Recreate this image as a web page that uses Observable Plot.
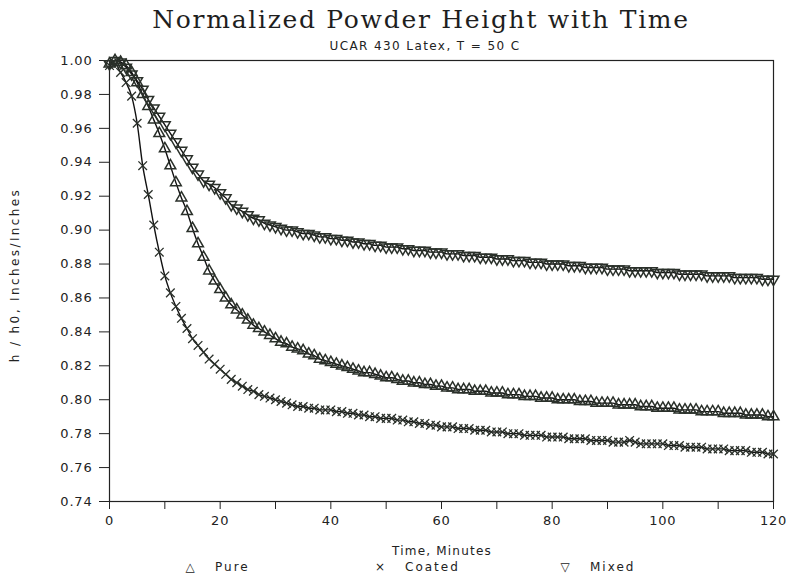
<!DOCTYPE html>
<html><head><meta charset="utf-8">
<script src="https://cdn.jsdelivr.net/npm/d3@7"></script>
<script src="https://cdn.jsdelivr.net/npm/@observablehq/plot@0.6"></script>
<style>
body{margin:0;background:#fff;}
#wrap{position:relative;width:786px;height:579px;overflow:hidden;font-family:"DejaVu Sans",sans-serif;color:#222;}
.t{position:absolute;white-space:nowrap;transform:translate(-50%,-50%);}
#chart{position:absolute;left:0;top:0;}
</style></head><body>
<div id="wrap">
<div id="chart"></div>
<div class="t" id="title" style="left:421px;top:19px;font-family:'DejaVu Serif',serif;font-size:25px;letter-spacing:1.7px;color:#1e1e1e;">Normalized Powder Height with Time</div>
<div class="t" id="sub" style="left:425px;top:46px;font-size:12px;letter-spacing:1.4px;">UCAR 430 Latex, T = 50 C</div>
<div class="t" id="ylab" style="left:15px;top:275px;font-size:12px;letter-spacing:2.4px;transform:translate(-50%,-50%) rotate(-90deg);">h / h0, Inches/Inches</div>
<div class="t" id="xlab" style="left:442px;top:551px;font-size:12px;letter-spacing:1.2px;">Time, Minutes</div>
<div id="legend"></div>
</div>
<script>
// Sample times (minutes)
const times = d3.range(0, 121);
// Series (h/h0)
const pure = [
0.998,1.000,0.999,0.997,0.993,0.987,0.980,0.973,0.965,0.957,
0.948,0.938,0.928,0.919,0.911,0.901,0.892,0.884,0.876,0.870,
0.865,0.860,0.856,0.853,0.850,0.847,0.844,0.842,0.840,0.838,
0.836,0.834,0.833,0.831,0.830,0.829,0.827,0.826,0.824,0.823,
0.822,0.821,0.820,0.819,0.818,0.817,0.816,0.816,0.815,0.814,
0.813,0.813,0.812,0.811,0.811,0.810,0.810,0.809,0.809,0.808,
0.808,0.807,0.807,0.806,0.806,0.806,0.805,0.805,0.805,0.804,
0.804,0.804,0.803,0.803,0.803,0.802,0.802,0.802,0.801,0.801,
0.801,0.800,0.800,0.800,0.800,0.799,0.799,0.799,0.798,0.798,
0.798,0.798,0.797,0.797,0.797,0.797,0.796,0.796,0.796,0.795,
0.795,0.795,0.795,0.794,0.794,0.794,0.794,0.793,0.793,0.793,
0.793,0.792,0.792,0.792,0.792,0.791,0.791,0.791,0.791,0.790,
0.790];
const coated = [
0.997,0.998,0.993,0.987,0.979,0.963,0.938,0.921,0.903,0.887,
0.873,0.863,0.855,0.848,0.842,0.836,0.832,0.828,0.824,0.821,
0.818,0.815,0.812,0.810,0.808,0.806,0.805,0.803,0.802,0.801,
0.800,0.799,0.798,0.797,0.796,0.796,0.795,0.795,0.794,0.794,
0.794,0.793,0.793,0.792,0.792,0.791,0.791,0.790,0.790,0.789,
0.789,0.789,0.788,0.788,0.787,0.787,0.786,0.786,0.785,0.785,
0.784,0.784,0.784,0.783,0.783,0.783,0.782,0.782,0.782,0.781,
0.781,0.781,0.780,0.780,0.780,0.779,0.779,0.779,0.779,0.778,
0.778,0.778,0.778,0.777,0.777,0.777,0.777,0.776,0.776,0.776,
0.776,0.775,0.775,0.775,0.776,0.775,0.774,0.774,0.774,0.774,
0.774,0.773,0.773,0.773,0.772,0.772,0.772,0.772,0.771,0.771,
0.771,0.771,0.770,0.770,0.770,0.770,0.769,0.769,0.769,0.768,
0.768];
const mixed = [
0.998,1.000,0.999,0.996,0.992,0.988,0.983,0.977,0.972,0.967,
0.962,0.957,0.952,0.947,0.942,0.937,0.933,0.929,0.927,0.925,
0.922,0.919,0.915,0.913,0.911,0.909,0.907,0.906,0.904,0.903,
0.902,0.901,0.900,0.900,0.899,0.898,0.898,0.897,0.896,0.896,
0.895,0.895,0.894,0.894,0.893,0.893,0.892,0.892,0.891,0.891,
0.890,0.890,0.890,0.889,0.889,0.888,0.888,0.888,0.887,0.887,
0.887,0.886,0.886,0.886,0.885,0.885,0.885,0.884,0.884,0.884,
0.883,0.883,0.883,0.882,0.882,0.882,0.881,0.881,0.881,0.880,
0.880,0.880,0.880,0.879,0.879,0.879,0.878,0.878,0.878,0.878,
0.877,0.877,0.877,0.877,0.876,0.876,0.876,0.876,0.876,0.875,
0.875,0.875,0.875,0.874,0.874,0.874,0.874,0.874,0.873,0.873,
0.873,0.873,0.873,0.872,0.872,0.872,0.872,0.872,0.871,0.871,
0.871];
const seriesNames = ["Pure", "Coated", "Mixed"];
const xTicks = [0,10,20,30,40,50,60,70,80,90,100,110,120];
const xLabels = [0,20,40,60,80,100,120];
const yTicks = [0.74,0.76,0.78,0.80,0.82,0.84,0.86,0.88,0.90,0.92,0.94,0.96,0.98,1.00];

const ink = "#2a302a";
const toRows = (vals, name) => times.map((t, i) => ({t, v: vals[i], name}));
const pureRows = toRows(pure, seriesNames[0]);
const coatedRows = toRows(coated, seriesNames[1]);
const mixedRows = toRows(mixed, seriesNames[2]);
const allRows = [...pureRows, ...coatedRows, ...mixedRows];

const chart = Plot.plot({
  width: 786, height: 579,
  marginLeft: 109, marginRight: 13, marginTop: 60, marginBottom: 78,
  style: {fontFamily: "DejaVu Sans, sans-serif", fontSize: "13px", letterSpacing: "0.8px", color: "#222", background: "transparent"},
  x: {domain: [0, 120]},
  y: {domain: [0.74, 1.00]},
  marks: [
    Plot.frame({stroke: "#222", strokeWidth: 1.2}),
    Plot.axisX({ticks: xTicks, tickSize: 8, tickPadding: 6, tickFormat: d => xLabels.includes(d) ? String(d) : "", label: null, stroke: "#222"}),
    Plot.axisY({ticks: yTicks, tickSize: 10, tickPadding: 7, tickFormat: d => d.toFixed(2), label: null, stroke: "#222"}),
    Plot.line(allRows, {x: "t", y: "v", z: "name", stroke: "#111", strokeWidth: 1.4, curve: "monotone-x"}),
    Plot.dot(pureRows, {x: "t", y: "v", symbol: "triangle", r: 4, stroke: ink, strokeWidth: 1.5, fill: "none"}),
    Plot.dot(coatedRows, {x: "t", y: "v", symbol: "times", r: 4, stroke: ink, strokeWidth: 1.3, fill: "none"}),
    Plot.dot(mixedRows, {x: "t", y: "v", symbol: "triangle", rotate: 180, r: 4, stroke: ink, strokeWidth: 1.5, fill: "none"})
  ]
});
document.getElementById("chart").appendChild(chart);

// Legend
const legendSymbols = ["\u25B3", "\u00D7", "\u25BD"];
const legendX = [190, 380, 565];
const lg = document.getElementById("legend");
seriesNames.forEach((n, i) => {
  const s = document.createElement("div");
  s.className = "t"; s.style.left = legendX[i] + "px"; s.style.top = "567px"; s.style.fontSize = "12px";
  s.textContent = legendSymbols[i];
  lg.appendChild(s);
  const l = document.createElement("div");
  l.className = "t"; l.style.left = (legendX[i] + 25) + "px"; l.style.top = "567px"; l.style.fontSize = "12px";
  l.style.letterSpacing = "2px";
  l.style.transform = "translate(0,-50%)";
  l.textContent = n;
  lg.appendChild(l);
});
</script>
</body></html>
